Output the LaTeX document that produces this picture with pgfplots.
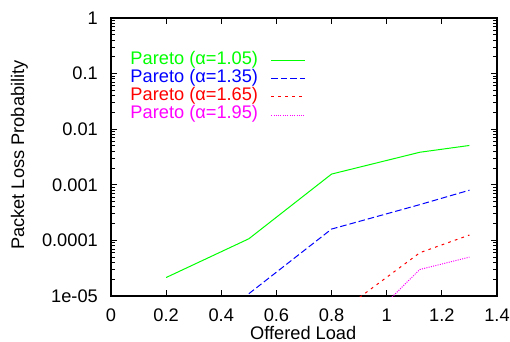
\documentclass[border=0pt]{standalone}
\usepackage{fontspec}
\setmainfont{Liberation Sans}
\usepackage{pgfplots}
\pgfplotsset{compat=1.18}
\definecolor{pgreen}{RGB}{0,255,0}
\definecolor{pblue}{RGB}{0,0,255}
\definecolor{pred}{RGB}{255,0,0}
\definecolor{pmag}{RGB}{255,0,255}
\newcommand{\ff}{\fontsize{18.3}{18.3}\selectfont}
\tikzset{
  s1/.style={draw=pgreen, line width=1pt},
  s2/.style={draw=pblue, line width=1pt, dash pattern=on 6.5bp off 3bp},
  s3/.style={draw=pred, line width=1pt, dash pattern=on 2.7bp off 4.3bp},
  s4/.style={draw=pmag, line width=1pt, dash pattern=on 1bp off 1.3bp},
}
\begin{document}
\begin{tikzpicture}
\begin{axis}[
  scale only axis, width=386bp, height=278bp,
  xmin=0, xmax=1.4, ymode=log, ymin=1e-5, ymax=1,
  xtick={0,0.2,0.4,0.6,0.8,1,1.2,1.4},
  xticklabels={0,0.2,0.4,0.6,0.8,1,1.2,1.4},
  ytick={1e-5,1e-4,1e-3,1e-2,1e-1,1},
  yticklabels={1e-05,0.0001,0.001,0.01,0.1,1},
  tick align=inside, major tick length=6.5bp, minor tick length=4bp,
  xtick pos=both, ytick pos=both,
  tick style={black, line width=1pt},
  axis line style={line width=1.3pt},
  ticklabel style={font=\ff, inner sep=0pt},
  xticklabel style={anchor=north, yshift=-12.3bp},
  yticklabel style={anchor=east, xshift=-13bp},
  xlabel={Offered Load}, ylabel={Packet Loss Probability},
  label style={font=\ff, inner sep=0pt},
  xlabel style={at={(axis description cs:0.498,0)}, anchor=base, yshift=-43bp},
  ylabel style={at={(axis description cs:-0.237,0.507)}, anchor=center, rotate=0},
  legend plot pos=right,
  legend cell align=left,
  legend style={at={(axis description cs:0.05,0.882)}, anchor=north west, draw=none, fill=none,
    font=\ff, row sep=0pt, inner sep=0pt,
    nodes={inner sep=0pt, text height=13bp, text depth=5.3bp},
    /tikz/every odd column/.append style={column sep=12.7bp}},
]
\addplot[s1, legend image code/.code={\draw[s1] (0bp,0bp) -- (34bp,0bp);}] coordinates {(0.2,2.15e-5) (0.5,1.07e-4) (0.8,1.56e-3) (1.12,3.85e-3) (1.3,5.1e-3)};
\addlegendentry[text=pgreen]{Pareto (α=1.05)}
\addplot[s2, legend image code/.code={\draw[s2] (0bp,0bp) -- (34bp,0bp);}] coordinates {(0.5,1.1e-5) (0.8,1.6e-4) (1.12,4.4e-4) (1.3,8.0e-4)};
\addlegendentry[text=pblue]{Pareto (α=1.35)}
\addplot[s3, legend image code/.code={\draw[s3] (0bp,0bp) -- (34bp,0bp);}] coordinates {(0.8,4e-6) (1.12,6.0e-5) (1.3,1.25e-4)};
\addlegendentry[text=pred]{Pareto (α=1.65)}
\addplot[s4, legend image code/.code={\draw[s4] (0bp,0bp) -- (34bp,0bp);}] coordinates {(0.8,8e-7) (1.12,3.0e-5) (1.3,5.0e-5)};
\addlegendentry[text=pmag]{Pareto (α=1.95)}
\addlegendimage{empty legend}
\addlegendentry{}
\end{axis}
\pgfresetboundingbox
\path (current axis.south west) ++(-111bp,-46bp) coordinate (bl);
\path (current axis.north east) ++(13bp,18bp) coordinate (tr);
\path[use as bounding box] (bl) rectangle (tr);
\end{tikzpicture}
\end{document}
